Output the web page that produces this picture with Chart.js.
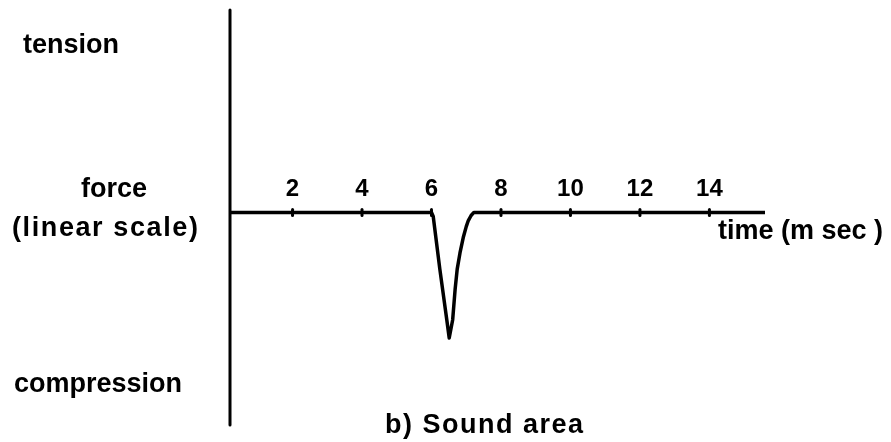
<!DOCTYPE html>
<html>
<head>
<meta charset="utf-8">
<script src="https://cdn.jsdelivr.net/npm/chart.js@4.4.1/dist/chart.umd.min.js"></script>
<style>
  html, body { margin: 0; padding: 0; background: #fff; }
  #wrap { width: 891px; height: 442px; }
</style>
</head>
<body>
<div id="wrap"><canvas id="graficoForca"></canvas></div>
<script>
// tempo (m sec) e força (escala linear, tração > 0, compressão < 0)
const tempo = [0.2, 6.0, 6.05, 6.24, 6.44, 6.51, 6.61, 6.68, 6.74, 6.82, 6.92, 7.0, 7.06, 7.14, 7.22, 15.6];
const forca = [0, 0, -0.02, -0.28, -0.53, -0.62, -0.53, -0.38, -0.28, -0.2, -0.12, -0.07, -0.04, -0.015, 0, 0];
const ticksTempo = [2, 4, 6, 8, 10, 12, 14];

const rotuloTracao = 'tension';
const rotuloForca = 'force';
const rotuloEscala = '(linear scale)';
const rotuloCompressao = 'compression';
const rotuloTempo = 'time (m sec )';
const titulo = 'b) Sound area';

const fonte = '"Liberation Sans", Arial, sans-serif';

// eixos desenhados à mão: linha vertical, marcas sobre a linha de base e textos
const eixosPlugin = {
    id: 'eixos',
    afterDatasetsDraw(chart) {
        const { ctx, chartArea, scales: { x, y } } = chart;
        const y0 = y.getPixelForValue(0);
        ctx.save();
        ctx.strokeStyle = '#000';
        ctx.lineCap = 'round';

        // eixo vertical
        ctx.lineWidth = 3;
        ctx.beginPath();
        ctx.moveTo(chartArea.left, chartArea.top);
        ctx.lineTo(chartArea.left, chartArea.bottom);
        ctx.stroke();

        // marcas e números do tempo
        ctx.fillStyle = '#000';
        ctx.font = 'bold 24px ' + fonte;
        ctx.textAlign = 'center';
        ctx.textBaseline = 'alphabetic';
        ticksTempo.forEach(t => {
            const px = x.getPixelForValue(t);
            ctx.lineWidth = 3;
            ctx.beginPath();
            ctx.moveTo(px, y0 - 3);
            ctx.lineTo(px, y0 + 3);
            ctx.stroke();
            ctx.fillText(String(t), px, y0 - 16);
        });

        // textos
        ctx.font = 'bold 27px ' + fonte;
        const texto = (s, px, py, align, esp) => {
            ctx.textAlign = align;
            ctx.letterSpacing = esp + 'px';
            ctx.fillText(s, px, py);
        };
        texto(rotuloTracao, 23, 53, 'left', 0);
        texto(rotuloForca, 114, 197, 'center', 0);
        texto(rotuloEscala, 12, 236, 'left', 1.6);
        texto(rotuloCompressao, 14, 392, 'left', 0);
        texto(rotuloTempo, 718, 239, 'left', 0);
        texto(titulo, 385, 433, 'left', 1.5);
        ctx.restore();
    }
};

const canvas = document.getElementById('graficoForca');
new Chart(canvas, {
    type: 'line',
    data: {
        datasets: [{
            data: tempo.map((t, i) => ({ x: t, y: forca[i] })),
            borderColor: '#000',
            borderWidth: 3.5,
            pointRadius: 0,
            tension: 0,
            borderJoinStyle: 'round',
            borderCapStyle: 'round',
        }]
    },
    options: {
        responsive: true, maintainAspectRatio: false,
        animation: false,
        layout: { padding: { left: 230, right: 126, top: 10, bottom: 17 } },
        plugins: { legend: { display: false }, tooltip: { enabled: false } },
        scales: {
            x: { type: 'linear', min: 0.2, max: 15.6, display: false },
            y: { min: -1.05, max: 1, display: false }
        }
    },
    plugins: [eixosPlugin]
});
</script>
</body>
</html>
